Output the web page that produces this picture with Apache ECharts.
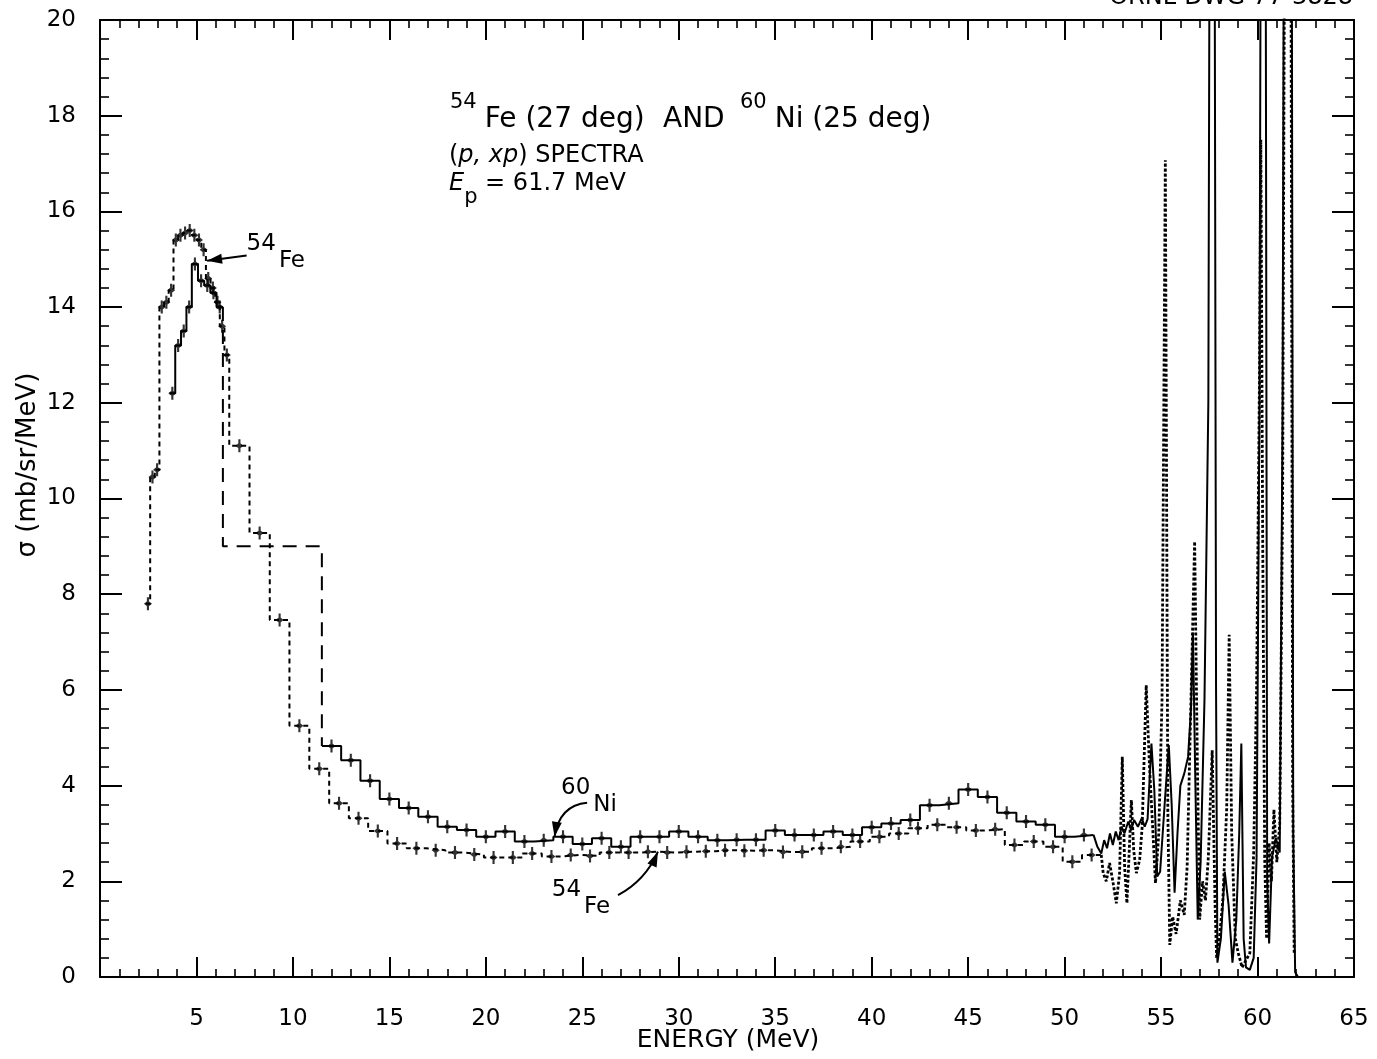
<!DOCTYPE html>
<html><head><meta charset="utf-8">
<script src="https://cdn.jsdelivr.net/npm/echarts@6/dist/echarts.min.js"></script>
<style>html,body{margin:0;padding:0;background:#fff}#c{width:1377px;height:1059px}</style>
</head><body><div id="c"></div>
<script>
// ---------- DATA (MeV, mb/sr/MeV) ----------
const fe54Edges = [2.37, 2.6, 2.84, 3.08, 3.32, 3.56, 3.81, 4.05, 4.29, 4.53, 4.77, 5.01, 5.25, 5.49, 5.73, 5.97, 6.21, 6.45, 6.7,
  7.75, 8.8, 9.82, 10.85, 11.88,
  12.9, 13.9, 14.9, 15.9, 16.9, 17.9, 18.9, 19.9, 20.9, 21.9, 22.9, 23.9, 24.9, 25.9, 26.9, 27.9, 28.9, 29.9, 30.9, 31.9,
  32.9, 33.9, 34.9, 35.9, 36.9, 37.9, 38.9, 39.9, 40.9, 41.9, 42.9, 43.9, 44.9, 45.9, 46.9, 47.9, 48.9, 49.9, 50.9, 51.9];
const fe54Values = [7.8, 10.45, 10.6, 14.0, 14.1, 14.35, 15.4, 15.5, 15.55, 15.6, 15.5, 15.4, 15.2, 14.6, 14.4, 14.1, 13.6, 13.0,
  11.1, 9.28, 7.46, 5.25, 4.35, 3.63,
  3.32, 3.05, 2.79, 2.69, 2.65, 2.60, 2.56, 2.50, 2.50, 2.58, 2.52, 2.55, 2.53, 2.60, 2.60, 2.62, 2.60, 2.62, 2.63, 2.65,
  2.64, 2.65, 2.61, 2.62, 2.69, 2.72, 2.83, 2.93, 3.00, 3.11, 3.18, 3.13, 3.06, 3.09, 2.76, 2.83, 2.72, 2.41, 2.55];
const fe54Fine = [[51.9,2.55],[52.0,2.17],[52.16,2.0],[52.33,2.38],[52.5,2.0],[52.68,1.54],[52.85,2.17],[52.99,4.6],[53.11,2.3],
  [53.23,1.54],[53.33,2.45],[53.46,3.7],[53.58,2.65],[53.72,2.17],[53.89,2.45],[54.02,3.14],[54.23,6.1],[54.4,4.4],[54.58,3.0],
  [54.71,1.96],[54.88,3.0],[55.05,5.8],[55.22,17.07],[55.35,3.5],[55.45,0.67],[55.6,1.26],[55.78,0.9],[56.0,1.6],[56.2,1.3],
  [56.35,2.3],[56.55,5.8],[56.74,9.1],[56.88,4.5],[57.0,1.2],[57.15,2.0],[57.3,1.6],[57.45,2.5],[57.65,4.74],[57.8,1.5],
  [57.88,0.4],[58.0,0.7],[58.2,1.6],[58.4,3.5],[58.53,7.15],[58.66,3.0],[58.85,0.8],[59.0,0.5],[59.2,0.2],[59.4,0.35],
  [59.6,0.5],[59.8,2.6],[59.95,6.0],[60.1,12.5],[60.17,17.5],[60.27,9.0],[60.37,2.5],[60.47,0.8],[60.6,2.8],[60.72,2.0],
  [60.85,3.5],[61.0,2.4],[61.15,3.2],[61.3,10],[61.45,28],[61.7,28],[61.82,4],[61.9,0.5]];

const ni60PeakEdges = [3.6, 3.9, 4.2, 4.48, 4.76, 5.08, 5.4, 5.72, 6.04, 6.37];
const ni60PeakValues = [12.2, 13.2, 13.5, 14.0, 14.9, 14.55, 14.45, 14.3, 14.0];
const ni60GapEdges = [6.37, 11.5];
const ni60GapValues = [9.0];
const ni60TailEdges = [11.5, 12.5, 13.5, 14.5, 15.5, 16.5, 17.5, 18.5, 19.5, 20.5, 21.5, 22.5, 23.5, 24.5, 25.5, 26.5, 27.5,
  28.5, 29.5, 30.5, 31.5, 32.5, 33.5, 34.5, 35.5, 36.5, 37.5, 38.5, 39.5, 40.5, 41.5, 42.5, 43.5, 44.5, 45.5, 46.5, 47.5,
  48.5, 49.5, 50.5, 51.5];
const ni60TailValues = [4.83, 4.53, 4.10, 3.72, 3.53, 3.35, 3.14, 3.07, 2.93, 3.04, 2.83, 2.86, 2.93, 2.78, 2.90, 2.72,
  2.93, 2.93, 3.04, 2.93, 2.86, 2.87, 2.87, 3.06, 2.97, 2.97, 3.04, 2.97, 3.13, 3.21, 3.28, 3.59, 3.63, 3.92, 3.76, 3.43,
  3.25, 3.18, 2.93, 2.97];
const ni60Fine = [[51.5,2.97],[51.7,2.72],[51.9,2.58],[52.05,2.86],[52.2,2.69],[52.35,3.0],[52.5,2.76],[52.65,3.04],[52.8,2.86],
  [52.95,3.14],[53.1,3.0],[53.3,3.25],[53.45,3.07],[53.6,3.28],[53.8,3.14],[54.0,3.32],[54.15,3.14],[54.3,3.3],[54.5,4.88],
  [54.65,3.9],[54.8,2.1],[54.95,2.2],[55.2,3.7],[55.4,4.85],[55.55,3.6],[55.7,1.76],[55.85,3.0],[56.0,4.0],[56.2,4.25],
  [56.4,4.6],[56.55,5.6],[56.65,7.2],[56.78,4.0],[56.9,1.2],[57.05,2.4],[57.25,5.8],[57.45,12],[57.55,28],[57.75,28],
  [57.85,6],[57.92,0.3],[58.1,0.8],[58.3,2.2],[58.5,1.5],[58.7,0.3],[58.9,1.2],[59.05,3.0],[59.16,4.88],[59.28,0.8],
  [59.4,0.2],[59.6,0.15],[59.8,0.4],[59.95,2.5],[60.1,12],[60.2,28],[60.4,28],[60.5,2],[60.6,0.7],[60.75,2.5],[60.95,2.9],
  [61.15,2.6],[61.3,12],[61.4,28],[61.75,28],[61.85,3],[61.95,0.1],[62.1,0],[62.4,0]];

const xRange = [0, 65, 5];
const yRange = [0, 20, 2];

// ---------- helpers ----------
const FONT = '"DejaVu Sans", "Liberation Sans", sans-serif';
function stepPoints(edges, values) {
  const pts = values.map((v, i) => [edges[i], v]);
  pts.push([edges[edges.length - 1], values[values.length - 1]]);
  return pts;
}
function centers(edges, values) {
  return values.map((v, i) => [(edges[i] + edges[i + 1]) / 2, v]);
}
const ERR = 'path://M-0.8,-6 L0.8,-6 L0.8,6 L-0.8,6 Z M-3,0 L0,-3 L3,0 L0,3 Z';

const axisLineStyle = { color: '#000', width: 2 };
function xAx(pos, labels) {
  return {
    type: 'value', min: xRange[0], max: xRange[1], interval: xRange[2], position: pos,
    axisLine: { show: true, onZero: false, lineStyle: axisLineStyle },
    axisTick: { show: true, inside: true, length: 20, lineStyle: { color: '#000', width: 2 } },
    minorTick: { show: true, splitNumber: 5, length: 8, lineStyle: { color: '#000', width: 1.6 } },
    splitLine: { show: false }, minorSplitLine: { show: false },
    axisLabel: labels ? { show: true, color: '#000', fontSize: 23, fontFamily: FONT, margin: 31,
      formatter: v => (v === 0 ? '' : String(v)) } : { show: false }
  };
}
function yAx(pos, labels) {
  return {
    type: 'value', min: yRange[0], max: yRange[1], interval: yRange[2], position: pos,
    axisLine: { show: true, onZero: false, lineStyle: axisLineStyle },
    axisTick: { show: true, inside: true, length: 22, lineStyle: { color: '#000', width: 2 } },
    minorTick: { show: true, splitNumber: 5, length: 9, lineStyle: { color: '#000', width: 1.6 } },
    splitLine: { show: false }, minorSplitLine: { show: false },
    axisLabel: labels ? { show: true, color: '#000', fontSize: 23, fontFamily: FONT, margin: 24 } : { show: false }
  };
}

const niGap = [
  [ni60GapEdges[0], ni60PeakValues[ni60PeakValues.length - 1]],
  [ni60GapEdges[0], ni60GapValues[0]],
  [ni60GapEdges[1], ni60GapValues[0]],
  [ni60GapEdges[1], ni60TailValues[0]]
];

const option = {
  backgroundColor: '#fff',
  animation: false,
  grid: { left: 100, right: 23, top: 20, bottom: 82, containLabel: false, outerBoundsMode: 'none' },
  xAxis: [xAx('bottom', true), xAx('top', false)],
  yAxis: [yAx('left', true), yAx('right', false)],
  series: [
    { name: 'Fe54', type: 'line', step: 'end', symbol: 'none', data: stepPoints(fe54Edges, fe54Values),
      lineStyle: { color: '#000', width: 2, type: [5, 4] } },
    { name: 'Fe54fine', type: 'line', symbol: 'none', data: fe54Fine,
      lineStyle: { color: '#000', width: 2.8, type: [3, 2] } },
    { name: 'Ni60peak', type: 'line', step: 'end', symbol: 'none', data: stepPoints(ni60PeakEdges, ni60PeakValues),
      lineStyle: { color: '#000', width: 2 } },
    { name: 'Ni60gap', type: 'line', symbol: 'none', data: niGap,
      lineStyle: { color: '#000', width: 2, type: [14, 9] } },
    { name: 'Ni60tail', type: 'line', step: 'end', symbol: 'none', data: stepPoints(ni60TailEdges, ni60TailValues),
      lineStyle: { color: '#000', width: 2 } },
    { name: 'Ni60fine', type: 'line', symbol: 'none', data: ni60Fine,
      lineStyle: { color: '#000', width: 2 } },
    { name: 'Fe54err', type: 'scatter', symbol: ERR, symbolSize: [8, 13], symbolKeepAspect: false,
      data: centers(fe54Edges, fe54Values), itemStyle: { color: '#000' } },
    { name: 'Ni60err', type: 'scatter', symbol: ERR, symbolSize: [8, 13], symbolKeepAspect: false,
      data: centers(ni60PeakEdges, ni60PeakValues).concat(centers(ni60TailEdges, ni60TailValues)),
      itemStyle: { color: '#000' } }
  ]
};

const chart = echarts.init(document.getElementById('c'), null, { renderer: 'canvas' });
chart.setOption(option);

// ---------- annotations ----------
const P = (p) => chart.convertToPixel({ xAxisIndex: 0, yAxisIndex: 0 }, p);
function arrowHead(tip, from, len, half) {
  const dx = tip[0] - from[0], dy = tip[1] - from[1];
  const d = Math.hypot(dx, dy), ux = dx / d, uy = dy / d;
  const bx = tip[0] - ux * len, by = tip[1] - uy * len;
  return { type: 'polygon', silent: true,
    shape: { points: [tip, [bx - uy * half, by + ux * half], [bx + uy * half, by - ux * half]] },
    style: { fill: '#000' } };
}
const annRich = {
  s: { fontSize: 23, fontFamily: FONT, color: '#000', verticalAlign: 'top', padding: [0, 3, 0, 0] },
  n: { fontSize: 23, fontFamily: FONT, color: '#000', lineHeight: 40, verticalAlign: 'bottom' }
};
const annotations = [
  { mass: '54', el: 'Fe', textAt: [7.6, 15.55], from: [7.6, 15.08], ctrl: null, tip: [5.55, 14.97] },
  { mass: '60', el: 'Ni', textAt: [23.9, 4.18], from: [25.25, 3.64], ctrl: [23.82, 3.59], tip: [23.56, 2.93] },
  { mass: '54', el: 'Fe', textAt: [23.42, 2.06], from: [26.85, 1.71], ctrl: [28.28, 2.02], tip: [28.92, 2.62] }
];
const graphics = [];
annotations.forEach(a => {
  const t = P(a.textAt), f = P(a.from), tp = P(a.tip);
  graphics.push({ type: 'text', x: t[0], y: t[1], silent: true,
    style: { text: '{s|' + a.mass + '}{n|' + a.el + '}', rich: annRich, align: 'left', verticalAlign: 'top' } });
  if (a.ctrl) {
    const c = P(a.ctrl);
    graphics.push({ type: 'bezierCurve', silent: true,
      shape: { x1: f[0], y1: f[1], x2: tp[0], y2: tp[1], cpx1: c[0], cpy1: c[1] },
      style: { stroke: '#000', lineWidth: 2, fill: null } });
    graphics.push(arrowHead(tp, c, 15, 5));
  } else {
    graphics.push({ type: 'line', silent: true, shape: { x1: f[0], y1: f[1], x2: tp[0], y2: tp[1] },
      style: { stroke: '#000', lineWidth: 2 } });
    graphics.push(arrowHead(tp, f, 15, 5));
  }
});

// title block
const titleRich = {
  s: { fontSize: 21, fontFamily: FONT, color: '#000', verticalAlign: 'top', padding: [0, 8, 0, 0] },
  n: { fontSize: 28, fontFamily: FONT, color: '#000', lineHeight: 42, verticalAlign: 'bottom' }
};
graphics.push({ type: 'text', x: 450, y: 92, silent: true, style: { text: '{s|54}{n|Fe (27 deg)}', rich: titleRich } });
graphics.push({ type: 'text', x: 663, y: 92, silent: true, style: { text: '{n|AND}', rich: titleRich } });
graphics.push({ type: 'text', x: 740, y: 92, silent: true, style: { text: '{s|60}{n|Ni (25 deg)}', rich: titleRich } });
graphics.push({ type: 'text', x: 449, y: 144, silent: true, style: {
  text: '{n|(}{i|p, xp}{n|) SPECTRA}',
  rich: {
    n: { fontSize: 24, fontFamily: FONT, color: '#000' },
    i: { fontSize: 24, fontFamily: FONT, color: '#000', fontStyle: 'italic' }
  } } });
graphics.push({ type: 'text', x: 449, y: 172, silent: true, style: {
  text: '{i|E}{b|p}{n| = 61.7 MeV}',
  rich: {
    i: { fontSize: 24, fontFamily: FONT, color: '#000', fontStyle: 'italic', lineHeight: 36, verticalAlign: 'top' },
    b: { fontSize: 21, fontFamily: FONT, color: '#000', verticalAlign: 'bottom', lineHeight: 36 },
    n: { fontSize: 24, fontFamily: FONT, color: '#000', lineHeight: 36, verticalAlign: 'top' }
  } } });
graphics.push({ type: 'text', x: 1353, y: 10, silent: true, style: {
  text: 'ORNL-DWG 77-3828', font: '24px ' + FONT, fill: '#000', align: 'right', verticalAlign: 'bottom' } });
// axis titles
graphics.push({ type: 'text', x: 28, y: 465, rotation: Math.PI / 2, silent: true, style: {
  text: 'σ (mb/sr/MeV)', font: '26px ' + FONT, fill: '#000', align: 'center', verticalAlign: 'middle' } });
graphics.push({ type: 'text', x: 728, y: 1040, silent: true, style: {
  text: 'ENERGY (MeV)', font: '25px ' + FONT, fill: '#000', align: 'center', verticalAlign: 'middle' } });

chart.setOption({ graphic: graphics });
</script>
</body></html>
